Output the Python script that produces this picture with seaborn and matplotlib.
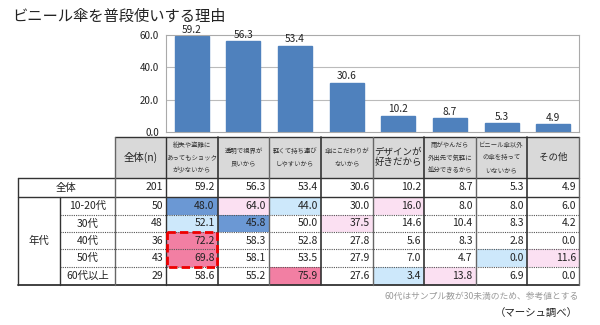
import matplotlib
matplotlib.use("Agg")
import matplotlib.pyplot as plt
from matplotlib.patches import Rectangle
import seaborn as sns
import pandas as pd

sns.set_theme(style="white")
plt.rcParams['font.family'] = ['Noto Sans CJK JP', 'DejaVu Sans']

# ---------------- data ----------------
title = "ビニール傘を普段使いする理由"
reasons = [
    "紛失や盗難に\nあってもショック\nが少ないから",
    "透明で視界が\n良いから",
    "軽くて持ち運び\nしやすいから",
    "傘にこだわりが\nないから",
    "デザインが\n好きだから",
    "雨がやんだら\n外出先で気軽に\n処分できるから",
    "ビニール傘以外\nの傘を持って\nいないから",
    "その他",
]
big_header = [False, False, False, False, True, False, False, True]
total_n = 201
total_values = [59.2, 56.3, 53.4, 30.6, 10.2, 8.7, 5.3, 4.9]
age_groups = ["10-20代", "30代", "40代", "50代", "60代以上"]
age_n = [50, 48, 36, 43, 29]
age_10_20 = [48.0, 64.0, 44.0, 30.0, 16.0, 8.0, 8.0, 6.0]
age_30 = [52.1, 45.8, 50.0, 37.5, 14.6, 10.4, 8.3, 4.2]
age_40 = [72.2, 58.3, 52.8, 27.8, 5.6, 8.3, 2.8, 0.0]
age_50 = [69.8, 58.1, 53.5, 27.9, 7.0, 4.7, 0.0, 11.6]
age_60 = [58.6, 55.2, 75.9, 27.6, 3.4, 13.8, 6.9, 0.0]
age_values = [age_10_20, age_30, age_40, age_50, age_60]
yticks = [0, 20, 40, 60]
note = "60代はサンプル数が30未満のため、参考値とする"
source = "（マーシュ調べ）"

# ---------------- figure ----------------
W, H = 600, 325
fig = plt.figure(figsize=(6, 3.25), dpi=100)
fig.patch.set_facecolor("white")

def fx(x):
    return x / W

def fy(y):
    return 1 - y / H

# bar chart axes (pixel layout)
ax_l, ax_r, ax_t, ax_b = 166, 579, 35, 132
ax = fig.add_axes([fx(ax_l), fy(ax_b), fx(ax_r - ax_l), (ax_b - ax_t) / H])
df = pd.DataFrame({"reason": [f"r{i}" for i in range(len(reasons))], "value": total_values})
sns.barplot(data=df, x="reason", y="value", color="#4f81bd", width=0.66,
            saturation=1, ax=ax, edgecolor="#4f81bd")
ax.set_xlim(-0.5, len(reasons) - 0.5)
ax.set_ylim(0, 60)
ax.set_yticks(yticks)
ax.set_yticklabels([f"{v:.1f}" for v in yticks], fontsize=7, color="#222222")
ax.set_xticks([])
ax.set_xlabel("")
ax.set_ylabel("")
for v in [20, 40]:
    ax.axhline(v, color="#bbbbbb", lw=0.8, zorder=0)
for s in ax.spines.values():
    s.set_color("#aaaaaa")
    s.set_linewidth(0.8)
ax.tick_params(axis="y", length=3, width=0.8, color="#aaaaaa", pad=2)
ax.bar_label(ax.containers[0], labels=[f"{v:.1f}" for v in total_values],
             fontsize=7.3, padding=1, color="#222222", clip_on=False)

# table axes covering whole figure in pixel coordinates
tax = fig.add_axes([0, 0, 1, 1], zorder=-1)
tax.set_xlim(0, W)
tax.set_ylim(H, 0)
tax.axis("off")

fig.text(fx(12), fy(16), title, fontsize=11, ha="left", va="center", color="#222222")

ncol = len(reasons)
cw = (ax_r - ax_l) / ncol
col_edges = [ax_l + i * cw for i in range(ncol + 1)]
x_left, x_grp, x_n = 18, 60, 115
y_head_t, y_head_b = 137, 178
y_total_b = 197
row_edges = [197, 215, 232, 249, 267, 285]

dark = "#333333"
c_dblue = "#6b98d4"
c_lblue = "#cde8fb"
c_lpink = "#fbe0f2"
c_dpink = "#f27fa3"
c_head = "#d9d9d9"

# header fill
tax.add_patch(Rectangle((x_n, y_head_t), ax_r - x_n, y_head_b - y_head_t,
                        facecolor=c_head, edgecolor="none"))
tax.text((x_n + ax_l) / 2, (y_head_t + y_head_b) / 2, "全体(n)", fontsize=7.5,
         ha="center", va="center", color="#222222")
for i, lab in enumerate(reasons):
    cx = (col_edges[i] + col_edges[i + 1]) / 2
    if big_header[i]:
        tax.text(cx, (y_head_t + y_head_b) / 2, lab, fontsize=6.8, ha="center",
                 va="center", linespacing=1.1, color="#222222")
    else:
        tax.text(cx, (y_head_t + y_head_b) / 2, lab, fontsize=4.6, ha="center",
                 va="center", linespacing=1.75, color="#333333")

# cell colouring by difference from overall
def cell_color(v, t):
    d = v - t
    if d >= 10:
        return c_dpink
    if d >= 5:
        return c_lpink
    if d <= -10:
        return c_dblue
    if d <= -5:
        return c_lblue
    return None

# total row
ymid = (y_head_b + y_total_b) / 2
tax.text((x_left + x_n) / 2, ymid, "全体", fontsize=7.5, ha="center", va="center", color="#222222")
tax.text(ax_l - 3, ymid, f"{total_n}", fontsize=7.5, ha="right", va="center", color="#222222")
for i, v in enumerate(total_values):
    tax.text(col_edges[i + 1] - 3, ymid, f"{v:.1f}", fontsize=7.5, ha="right",
             va="center", color="#222222")

# age rows
for r, (grp, n, vals) in enumerate(zip(age_groups, age_n, age_values)):
    yt, yb = row_edges[r], row_edges[r + 1]
    ym = (yt + yb) / 2
    tax.text((x_grp + x_n) / 2, ym, grp, fontsize=7.5, ha="center", va="center", color="#222222")
    tax.text(ax_l - 3, ym, f"{n}", fontsize=7.5, ha="right", va="center", color="#222222")
    for i, v in enumerate(vals):
        c = cell_color(v, total_values[i])
        if c:
            tax.add_patch(Rectangle((col_edges[i], yt), cw, yb - yt, facecolor=c, edgecolor="none"))
        tax.text(col_edges[i + 1] - 3, ym, f"{v:.1f}", fontsize=7.5, ha="right",
                 va="center", color="#222222")
tax.text((x_left + x_grp) / 2, (row_edges[0] + row_edges[-1]) / 2, "年代", fontsize=7.5,
         ha="center", va="center", color="#222222")

# grid lines
lw = 1.0
tax.plot([x_n, ax_r], [y_head_t, y_head_t], color=dark, lw=lw)
tax.plot([x_left, ax_r], [y_head_b, y_head_b], color=dark, lw=lw)
tax.plot([x_left, ax_r], [y_total_b, y_total_b], color=dark, lw=lw)
tax.plot([x_left, ax_r], [row_edges[-1], row_edges[-1]], color=dark, lw=1.3)
for y in row_edges[1:-1]:
    tax.plot([x_grp, ax_r], [y, y], color="#555555", lw=0.8, ls=(0, (1, 1)))
tax.plot([x_left, x_left], [y_head_b, row_edges[-1]], color=dark, lw=lw)
tax.plot([x_grp, x_grp], [y_total_b, row_edges[-1]], color=dark, lw=lw)
tax.plot([x_n, x_n], [y_head_t, row_edges[-1]], color="#666666", lw=lw)
for i, x in enumerate(col_edges):
    tax.plot([x, x], [y_head_t, row_edges[-1]], color=dark if i % 2 == 1 or i == 0 else "#666666",
             lw=1.2 if i % 2 == 1 else lw)

# red dashed highlight around 40代 & 50代 in first reason column
tax.add_patch(Rectangle((col_edges[0] + 0.5, row_edges[2]), cw - 1, row_edges[4] - row_edges[2],
                        facecolor="none", edgecolor="#ee0000", lw=2, ls=(0, (3, 1.5)), zorder=5))

tax.text(ax_r, 296, note, fontsize=6.3, ha="right", va="center", color="#9a9a9a")
tax.text(ax_r - 1, 313, source, fontsize=7.5, ha="right", va="center", color="#222222")

fig.savefig("out.png", dpi=100, facecolor="white")
